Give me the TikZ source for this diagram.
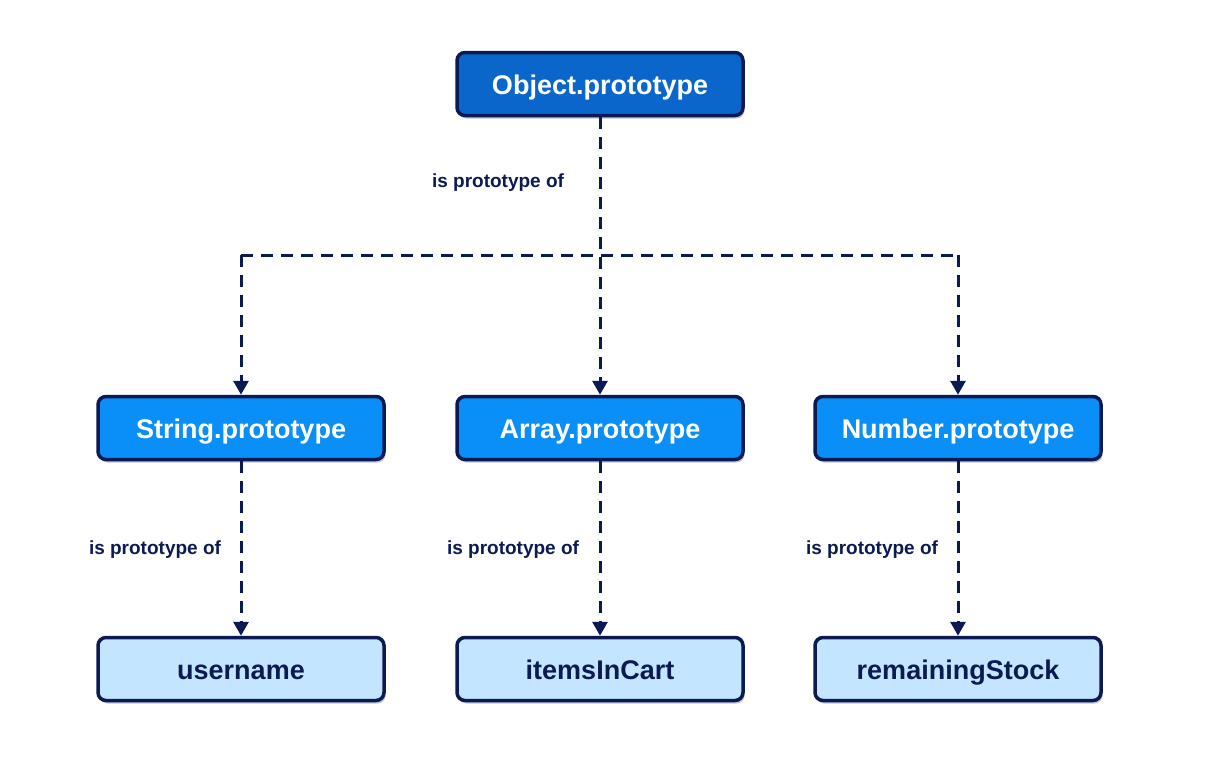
\documentclass[tikz,border=0pt]{standalone}
\usepackage{fontspec}
\setmainfont{Liberation Sans}
\usetikzlibrary{arrows.meta,shadows}
\definecolor{navy}{HTML}{0B1A52}
\definecolor{topblue}{HTML}{0B66CC}
\definecolor{midblue}{HTML}{0A8EF7}
\definecolor{lightblue}{HTML}{C4E5FF}
\tikzset{
  box/.style={draw=navy, line width=3.5pt, rounded corners=8pt, minimum width=286pt, minimum height=63pt,
    text height=22pt, text depth=2pt,
    font=\bfseries\fontsize{27}{31}\selectfont, drop shadow={shadow xshift=1.5pt, shadow yshift=-3pt, opacity=0.25, fill=navy}},
  topbox/.style={box, fill=topblue, text=white},
  midbox/.style={box, fill=midblue, text=white},
  leafbox/.style={box, fill=lightblue, text=navy},
  link/.style={draw=navy, line width=3pt, dash pattern=on 12pt off 8pt, -{Triangle[length=14pt,width=15pt]}},
  plain/.style={draw=navy, line width=3pt, dash pattern=on 12pt off 8pt},
  lbl/.style={text=navy, font=\bfseries\fontsize{19}{22}\selectfont}
}
\begin{document}
\begin{tikzpicture}[x=1pt,y=-1pt]
\useasboundingbox (0,0) rectangle (1221,766);
\node[topbox] (obj) at (600,84) {Object.prototype};
\node[midbox] (str) at (241,428) {String.prototype};
\node[midbox] (arr) at (600,428) {Array.prototype};
\node[midbox] (num) at (958,428) {Number.prototype};
\node[leafbox] (usr) at (241,669) {username};
\node[leafbox] (itm) at (600,669) {itemsInCart};
\node[leafbox] (rem) at (958,669) {remainingStock};
\coordinate (hl) at (241,255);
\coordinate (hr) at (958,255);
\draw[link] (obj.south) -- (arr.north);
\draw[plain] (hl) -- (hr);
\draw[link] (hl) -- (str.north);
\draw[link] (hr) -- (num.north);
\draw[link] (str.south) -- (usr.north);
\draw[link] (arr.south) -- (itm.north);
\draw[link] (num.south) -- (rem.north);
\node[lbl] (l0) at (498,183) {is prototype of};
\node[lbl] (l1) at (155,550) {is prototype of};
\node[lbl] (l2) at (513,550) {is prototype of};
\node[lbl] (l3) at (872,550) {is prototype of};
\end{tikzpicture}
\end{document}
